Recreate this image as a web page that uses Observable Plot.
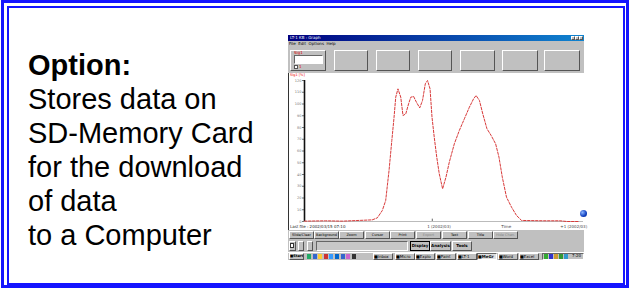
<!DOCTYPE html>
<html><head><meta charset="utf-8">
<script src="https://cdn.jsdelivr.net/npm/d3@7"></script>
<script src="https://cdn.jsdelivr.net/npm/@observablehq/plot@0.6"></script>
<style>
html,body{margin:0;padding:0;background:#fff;}
#page{position:relative;width:629px;height:288px;overflow:hidden;background:#fff;font-family:"Liberation Sans",Arial,sans-serif;}
.a{position:absolute;box-sizing:border-box;}
.raised{background:#c0c0c0;border-top:1px solid #fff;border-left:1px solid #fff;border-right:1px solid #555;border-bottom:1px solid #555;}
.sunk{border-top:1px solid #666;border-left:1px solid #666;border-right:1px solid #fff;border-bottom:1px solid #fff;}
.tiny{font-size:4px;line-height:5px;white-space:nowrap;overflow:hidden;text-align:center;color:#000;font-family:"DejaVu Sans",sans-serif;}
#txt{left:28px;top:48px;font-size:29px;line-height:34px;color:#000;white-space:nowrap;}
</style></head>
<body><div id="page"></div>
<script>
// ---- data ----
const textLines = ["Stores data on","SD-Memory Card","for the download","of data","to a Computer"];
const heading = "Option:";
const timeIdx = [0,7.5,13.5,24.3,26.1,27.9,29.1,30.3,31.3,32.1,32.7,33.5,34.5,35.3,36.3,37.3,38.1,39.1,40.1,41.3,42.3,43.3,44.1,45.0,45.7,46.5,47.4,48.3,49.5,50.7,51.9,53.7,55.5,57.3,59.1,60.6,61.5,62.7,63.9,65.4,66.9,68.5,69.7,70.9,72.4,74.2,76.0,77.8,85.6,91.6,94.0,98.2];
const signal  = [0.3,0.6,0.3,1.4,3.1,9.4,17.9,43.4,68.9,88.8,105.8,112.9,105.8,90.2,91.6,100.1,105.8,106.4,101.6,96.7,103.0,117.2,120.0,112.9,88.8,71.8,54.8,40.6,27.8,37.7,50.5,66.1,77.5,87.4,97.3,104.4,107.2,103.0,91.6,78.9,73.2,66.1,54.8,37.7,20.7,12.2,5.1,0.9,0.6,0.6,0,0];
const yTicks = [0,10,20,30,40,50,60,70,80,90,100,110,120];
const xLabels = ["1 (2002/03)","Time","+1 (2002/03)"];
const xLabelPos = [48.2,72.3,96.5];
const xTickMark = [45.8];
const buttons1 = ["Slide/Clear","Background","Zoom","Cursor","Print","Export","Text","Title","Hide Chan."];
const buttons1Disabled = [false,false,false,false,false,true,false,false,true];
const buttons2 = ["Display","Analysis","Tools"];
const tasks = ["Inbox","Micro","Explo","Paint","LT-1","MeGr","Word","Excel"];
const menuItems = ["File","Edit","Options","Help"];
const windowTitle = "LT-1 KB : Graph";
const seriesLabel = "Sig1 [%]";
const lastFile = "Last file : 2002/03/15 07:10";

const page = document.getElementById("page");
function el(cls, css, html){const d=document.createElement("div");d.className="a "+cls;d.style.cssText=css;if(html!==undefined)d.innerHTML=html;page.appendChild(d);return d;}

// frame borders
el("", "left:1px;top:0px;width:628px;height:288px;border:3px solid #1414ff;");
el("", "left:7px;top:6px;width:618px;height:279px;border:2px solid #1414ff;");

// left text
const t = el("", "", "");
t.id="txt";
t.innerHTML = "<b>"+heading+"</b><br>"+textLines.join("<br>");

// window
el("", "left:288px;top:35px;width:296px;height:225px;background:#c0c0c0;");
el("", "left:288px;top:35px;width:296px;height:6px;background:linear-gradient(90deg,#000080,#1084d0);");
el("tiny", "left:290px;top:35px;width:50px;height:6px;color:#fff;text-align:left;line-height:6px;", windowTitle);
[0,1,2].forEach(i=>el("raised","left:"+(571+i*4)+"px;top:36px;width:4px;height:4px;"));
el("tiny","left:289px;top:41px;width:60px;height:5px;text-align:left;", menuItems.join("&nbsp;&nbsp;"));
// toolbar boxes
const boxX=[290,334,376,418,460,502,544], boxW=[36,34,34,34,35,36,36];
boxX.forEach((x,i)=>el("raised","left:"+x+"px;top:50px;width:"+boxW[i]+"px;height:21px;"));
el("tiny","left:294px;top:50px;width:12px;height:5px;color:#d00;text-align:left;","Sig1");
el("sunk","left:294px;top:55px;width:29px;height:9px;background:#fff;");
el("","left:294px;top:65px;width:4px;height:4px;background:#fff;border:1px solid #555;");
el("tiny","left:299px;top:64px;width:5px;height:5px;color:#d00;text-align:left;","1");

// plot area
const plotBox = el("", "left:288px;top:73px;width:296px;height:157px;background:#fff;border-left:1px solid #333;");
const data = timeIdx.map((x,i)=>({x, y: signal[i]}));
const chart = Plot.plot({
  width: 295, height: 157,
  marginLeft: 15, marginRight: 1, marginTop: 7, marginBottom: 9,
  style: {background:"#fff", fontFamily:"DejaVu Sans, sans-serif", fontSize:"3.5px", color:"#777", overflow:"visible"},
  x: {domain:[0,100], axis:null},
  y: {domain:[0,120], axis:null},
  marks: [
    Plot.axisY({ticks: yTicks, tickSize: 2, tickPadding: 1, label: null, fontSize: 3.5}),
    Plot.ruleY([0], {stroke:"#aaa", strokeWidth:0.8}),
    Plot.ruleX([0], {stroke:"#111", strokeWidth:1.6}),
    Plot.line(data, {x:"x", y:"y", stroke:"#d83a3a", strokeWidth:1, strokeDasharray:"2.5,1.5"}),
    Plot.ruleX(xTickMark, {y1: 0, y2: 2, stroke:"#666"}),
    Plot.text(xLabels, {x: (d,i)=>xLabelPos[i], y: 0, dy: 5, text: d=>d, fontSize: 4, fill:"#444"})
  ]
});
chart.style.position="absolute"; chart.style.left="0px"; chart.style.top="0px";
plotBox.appendChild(chart);
el("tiny","left:290px;top:73px;width:20px;height:5px;font-size:3.5px;color:#e00;text-align:left;overflow:visible;", seriesLabel);
el("tiny","left:290px;top:224px;width:60px;height:5px;color:#222;text-align:left;", lastFile);
// blue ball
el("","left:580px;top:210px;width:7px;height:7px;border-radius:50%;background:radial-gradient(circle at 35% 35%,#8ab4ff,#1040c0 60%,#002080);");

// button row 1
const b1x=[289,314,339,365,390,416,442,468,493];
buttons1.forEach((b,i)=>el("raised tiny","left:"+b1x[i]+"px;top:231px;width:25px;height:8px;line-height:6px;font-size:3.5px;color:"+(buttons1Disabled[i]?"#888":"#000")+";",b));
// row 2
[289,298,307].forEach((x,i)=>el("raised","left:"+x+"px;top:241px;width:"+(i==0?7:6)+"px;height:10px;"));
el("","left:290px;top:243px;width:4px;height:5px;background:#fff;border:1px solid #333;");
el("sunk","left:316px;top:241px;width:92px;height:10px;background:#c8c8c8;");
const b2x=[410,430,452], b2w=[20,21,20];
buttons2.forEach((b,i)=>el((i==0?"sunk":"raised")+" tiny","left:"+b2x[i]+"px;top:241px;width:"+b2w[i]+"px;height:10px;line-height:8px;font-weight:bold;"+(i==0?"border:1px solid #000;":""),b));
// taskbar
el("","left:288px;top:252px;width:296px;height:1px;background:#fff;");
el("raised tiny","left:289px;top:253px;width:15px;height:7px;line-height:5px;font-weight:bold;font-size:3.5px;text-align:left;","&#9632;Start");
const qlColors=["#2a6","#36c","#fc3","#c33","#39f","#06c","#36c","#c6c","#333"];
qlColors.forEach((c,i)=>el("","left:"+(307+i*5.6)+"px;top:254px;width:4px;height:5px;background:"+c+";"));
const taskX=[373,395,415,436,457,477,498,519];
tasks.forEach((tk,i)=>el((i==5?"sunk":"raised")+" tiny","left:"+taskX[i]+"px;top:253px;width:20px;height:7px;line-height:5px;text-align:left;"+(i==5?"background:#e0e0e0;font-weight:bold;":""),"&#9632;"+tk));
el("sunk","left:542px;top:253px;width:42px;height:7px;");
["#3a3","#33c","#c93","#393","#39c"].forEach((c,i)=>el("","left:"+(544+i*5)+"px;top:254px;width:4px;height:5px;background:"+c+";"));
el("tiny","left:572px;top:253px;width:12px;height:6px;text-align:left;","7:20");
</script>
</body></html>
